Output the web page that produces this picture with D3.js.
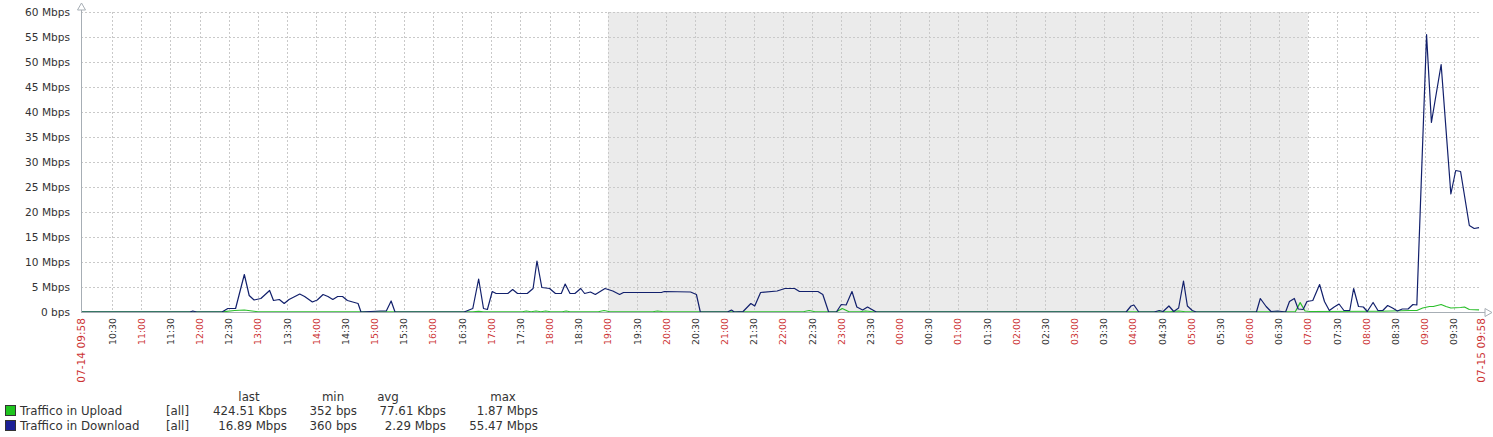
<!DOCTYPE html>
<html><head><meta charset="utf-8">
<script src="https://cdn.jsdelivr.net/npm/d3@7"></script>
<style>
html,body{margin:0;padding:0;background:#fff;}
svg{display:block;font-family:"DejaVu Sans",sans-serif;}
</style></head>
<body>
<svg id="chart" width="1493" height="437"></svg>
<script>
// ---- data (minutes after 07-14 09:58, Mbps) ----
const downMinutes = [0,112,115,119,145,151,159,168,173,178,185,194,198,204,209,214,225,230,238,243,249,254,259,264,269,274,285,288,308,314,319,323,394,403,409,414,418,423,427,439,444,449,459,465,469,474,482,488,494,498,503,508,514,518,524,529,539,547,554,558,597,600,627,633,637,665,669,672,681,689,693,699,716,724,734,739,758,763,769,777,782,787,793,798,804,809,818,1075,1080,1083,1088,1104,1109,1113,1119,1124,1129,1134,1138,1143,1147,1209,1213,1219,1224,1231,1239,1243,1248,1252,1257,1261,1267,1274,1279,1284,1289,1294,1299,1305,1309,1314,1319,1323,1329,1334,1339,1344,1349,1354,1359,1365,1370,1374,1384,1389,1399,1409,1414,1419,1428,1433,1438];
const downloadMbps = [0,0,0.2,0,0,0.7,0.7,7.5,3.3,2.4,2.7,4.3,2.3,2.5,1.7,2.5,3.6,3.1,2.0,2.4,3.5,3.1,2.5,3.1,3.1,2.3,1.7,0,0.2,0.2,2.2,0,0,0.7,6.6,0.7,0.5,4.1,3.7,3.7,4.5,3.7,3.7,4.7,10.2,4.9,4.7,3.7,3.7,5.6,3.7,3.7,4.7,3.7,4.0,3.5,4.7,4.2,3.5,3.9,3.9,4.1,4.0,3.5,0,0,0.4,0,0.1,1.7,1.2,3.9,4.2,4.7,4.7,4.1,4.1,3.5,0,0,1.5,1.4,4.1,1.0,0.4,1.0,0,0,1.2,1.4,0,0,0.3,0.1,1.2,0.1,0.8,6.2,1.2,0.3,0,0,2.7,1.1,0.1,0.2,0,2.1,2.7,0.6,0.5,2.1,2.3,5.5,2.1,0.3,1.0,1.6,0.3,0.3,4.7,1.1,1.0,0.1,1.9,0.3,0.3,1.3,0.8,0.2,0.6,0.6,1.5,1.4,55.47,37.9,49.5,23.6,28.3,28.1,17.3,16.7,16.89];
const upMinutes = [0,145,158,168,176,182,403,409,414,454,458,463,468,473,478,483,495,499,503,532,538,544,588,593,599,743,749,755,777,783,790,801,807,814,1120,1129,1136,1249,1254,1259,1264,1337,1368,1374,1380,1387,1391,1399,1404,1409,1419,1423,1428,1438];
const uploadMbps = [0.03,0.03,0.3,0.4,0.2,0.05,0.05,0.15,0.05,0.05,0.2,0.05,0.2,0.05,0.2,0.05,0.05,0.2,0.05,0.05,0.3,0.05,0.05,0.2,0.05,0.05,0.3,0.05,0.05,0.7,0.05,0.05,0.2,0.05,0.05,0.2,0.05,0.05,1.87,0.2,0.1,0.15,0.3,0.3,0.8,1.1,1.1,1.5,1.1,0.8,0.9,1.0,0.5,0.42];
const yTicks = [0,5,10,15,20,25,30,35,40,45,50,55,60];
const legendNames = ["Traffico in Upload","Traffico in Download"];
const legendLast = ["424.51 Kbps","16.89 Mbps"];
const legendMin = ["352 bps","360 bps"];
const legendAvg = ["77.61 Kbps","2.29 Mbps"];
const legendMax = ["1.87 Mbps","55.47 Mbps"];
const firstLabel = "07-14 09:58", lastLabel = "07-15 09:58";

// ---- setup ----
const start = new Date(Date.UTC(2024,6,14,9,58));
const end = new Date(Date.UTC(2024,6,15,9,58));
const toDate = m => new Date(start.getTime() + m*60000);
const L = 81, R = 1481, T = 12, B = 312;
const x = d3.scaleUtc().domain([start,end]).range([L,R]);
const y = d3.scaleLinear().domain([0,60]).range([B,T]);
const svg = d3.select("#chart");
const axisColor = "#a7aeb5", gridColor = "#c9c9c9", textColor = "#333", redColor = "#cc3333";

// non-working time shading 19:00 - 07:00
svg.append("rect")
  .attr("x", x(new Date(Date.UTC(2024,6,14,19,0))))
  .attr("y", T)
  .attr("width", x(new Date(Date.UTC(2024,6,15,7,0))) - x(new Date(Date.UTC(2024,6,14,19,0))))
  .attr("height", B - T)
  .attr("fill", "#ebebeb");

// time ticks every 30 min
const ticks = d3.utcMinute.every(30).range(start, end)
  .filter(d => (d - start) > 20*60000 && (end - d) > 20*60000);

// grid
const g = svg.append("g");
g.selectAll("line.v").data(ticks).join("line")
  .attr("x1", d => Math.round(x(d)) + 0.5).attr("x2", d => Math.round(x(d)) + 0.5)
  .attr("y1", T).attr("y2", B)
  .attr("stroke", gridColor).attr("stroke-dasharray", "2,2").attr("stroke-width", 1);
g.selectAll("line.h").data(yTicks.filter(v => v > 0)).join("line")
  .attr("x1", L).attr("x2", R)
  .attr("y1", d => Math.round(y(d)) + 0.5).attr("y2", d => Math.round(y(d)) + 0.5)
  .attr("stroke", gridColor).attr("stroke-dasharray", "2,2").attr("stroke-width", 1);

// y axis labels
const yAxis = d3.axisLeft(y).tickValues(yTicks).tickSize(0).tickPadding(11)
  .tickFormat(v => v === 0 ? "0 bps" : v + " Mbps");
const ya = svg.append("g").attr("transform", `translate(${L},0)`).call(yAxis);
ya.select(".domain").remove();
ya.selectAll("text").attr("font-size", "10.6px").attr("fill", textColor).attr("font-family", "DejaVu Sans");

// x labels
const xLabels = [start, ...ticks, end];
const fmt = d3.utcFormat("%H:%M");
const isEdge = i => i === 0 || i === xLabels.length - 1;
svg.append("g").selectAll("text").data(xLabels).join("text")
  .attr("transform", (d, i) => `translate(${x(d) + (isEdge(i) ? 4 : 3.5)},318) rotate(-90)`)
  .attr("text-anchor", "end")
  .attr("font-size", (d, i) => isEdge(i) ? "10.6px" : "9.4px")
  .attr("fill", (d, i) => (isEdge(i) || d.getUTCMinutes() === 0) ? redColor : textColor)
  .text((d, i) => i === 0 ? firstLabel : (i === xLabels.length - 1 ? lastLabel : fmt(d)));

// series
const line = d3.line().x(d => x(toDate(d[0]))).y(d => y(d[1]));
const upData = upMinutes.map((m, i) => [m, uploadMbps[i]]);
const downData = downMinutes.map((m, i) => [m, downloadMbps[i]]);
svg.append("path").datum(upData).attr("d", line)
  .attr("fill", "none").attr("stroke", "#2bbf2b").attr("stroke-width", 1.2).attr("stroke-linejoin", "round");
svg.append("path").datum(downData).attr("d", line)
  .attr("fill", "none").attr("stroke", "#12206c").attr("stroke-width", 1.2).attr("stroke-linejoin", "round");

// axes lines with arrows
svg.append("line").attr("x1", L + 0.5).attr("x2", L + 0.5).attr("y1", 4).attr("y2", B + 0.5)
  .attr("stroke", axisColor);
svg.append("line").attr("x1", L).attr("x2", 1486).attr("y1", B + 0.5).attr("y2", B + 0.5)
  .attr("stroke", axisColor);
svg.append("path").attr("d", `M${L + 0.5},3 L${L - 3.5},10 L${L + 4.5},10 Z`)
  .attr("fill", "#fff").attr("stroke", axisColor);
svg.append("path").attr("d", `M1492,${B + 0.5} L1485,${B - 3.5} L1485,${B + 4.5} Z`)
  .attr("fill", "#fff").attr("stroke", axisColor);

// legend
const lg = svg.append("g").attr("font-size", "11.8px").attr("fill", textColor);
const headers = [["last", 249], ["min", 333], ["avg", 388], ["max", 503]];
lg.selectAll("text.h").data(headers).join("text")
  .attr("x", d => d[1]).attr("y", 401).attr("text-anchor", "middle").text(d => d[0]);
const colors = ["#1fc41f", "#1c2096"];
legendNames.forEach((name, i) => {
  const yy = 415 + i * 15;
  lg.append("rect").attr("x", 5.5).attr("y", yy - 9.5).attr("width", 10).attr("height", 10)
    .attr("fill", colors[i]).attr("stroke", "#333").attr("stroke-width", 1);
  lg.append("text").attr("x", 20).attr("y", yy).text(name);
  lg.append("text").attr("x", 166).attr("y", yy).text("[all]");
  lg.append("text").attr("x", 287).attr("y", yy).attr("text-anchor", "end").text(legendLast[i]);
  lg.append("text").attr("x", 357).attr("y", yy).attr("text-anchor", "end").text(legendMin[i]);
  lg.append("text").attr("x", 446).attr("y", yy).attr("text-anchor", "end").text(legendAvg[i]);
  lg.append("text").attr("x", 538).attr("y", yy).attr("text-anchor", "end").text(legendMax[i]);
});
</script>
</body></html>
